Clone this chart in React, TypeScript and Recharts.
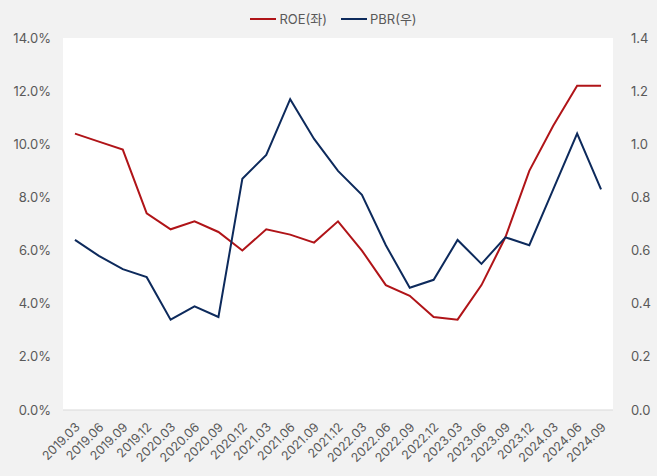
import React from 'react';
import { LineChart, Line, XAxis, YAxis } from 'recharts';

const categories = ['2019.03','2019.06','2019.09','2019.12','2020.03','2020.06','2020.09','2020.12','2021.03','2021.06','2021.09','2021.12','2022.03','2022.06','2022.09','2022.12','2023.03','2023.06','2023.09','2023.12','2024.03','2024.06','2024.09'];
const roe = [10.4,10.1,9.8,7.4,6.8,7.1,6.7,6.0,6.8,6.6,6.3,7.1,6.0,4.7,4.3,3.5,3.4,4.7,6.5,9.0,10.7,12.2,12.2];
const pbr = [0.64,0.58,0.53,0.50,0.34,0.39,0.35,0.87,0.96,1.17,1.02,0.90,0.81,0.62,0.46,0.49,0.64,0.55,0.65,0.62,0.83,1.04,0.83];
const leftTicks = [0,2,4,6,8,10,12,14];
const rightTicks = [0,0.2,0.4,0.6,0.8,1.0,1.2,1.4];

const data = categories.map((c, i) => ({ name: c, roe: roe[i], pbr: pbr[i] }));

const FONT = 'Inter, "Noto Sans CJK KR", sans-serif';
const TXT = '#595959';
const RED = '#b01418';
const NAVY = '#0d2a5c';

const XTick = (props: any) => {
  const { x, y, payload } = props;
  return (
    <text x={x} y={y} transform={`rotate(-45, ${x}, ${y})`} textAnchor="end" dy={11} dx={-3}
      fill={TXT} fontSize={12.5} fontFamily={FONT}>{payload.value}</text>
  );
};

export default function App() {
  return (
    <div style={{ position: 'absolute', left: 0, top: 0, width: 657, height: 476, background: '#f2f2f2' }}>
      <div style={{ position: 'absolute', top: 9, left: 0, width: 657, display: 'flex', justifyContent: 'center',
        fontFamily: FONT, fontSize: 13, color: TXT, paddingLeft: 10, boxSizing: 'border-box' }}>
        <div style={{ display: 'flex', alignItems: 'center', marginRight: 14 }}>
          <div style={{ width: 26, height: 2, background: RED, marginRight: 3 }} />ROE(좌)
        </div>
        <div style={{ display: 'flex', alignItems: 'center' }}>
          <div style={{ width: 26, height: 2, background: NAVY, marginRight: 3 }} />PBR(우)
        </div>
      </div>
      <LineChart width={657} height={476} data={data} margin={{ top: 38, right: 0, left: 0, bottom: 0 }}
        style={{ position: 'absolute', left: 0, top: 0 }}>
        <rect x={63} y={38} width={550} height={372} fill="#ffffff" />
        <XAxis dataKey="name" scale="band" interval={0} height={66} tick={<XTick />} tickLine={false}
          axisLine={{ stroke: '#d9d9d9' }} />
        <YAxis yAxisId="l" orientation="left" width={63} domain={[0, 14]} ticks={leftTicks}
          tickFormatter={(v: number) => v.toFixed(1) + '%'} axisLine={false} tickLine={false}
          tick={{ fill: TXT, fontSize: 13, fontFamily: FONT }} tickMargin={6} />
        <YAxis yAxisId="r" orientation="right" width={44} domain={[0, 1.4]} ticks={rightTicks}
          tickFormatter={(v: number) => v.toFixed(1)} axisLine={false} tickLine={false}
          tick={{ fill: TXT, fontSize: 13, fontFamily: FONT }} tickMargin={12} />
        <Line yAxisId="l" dataKey="roe" stroke={RED} strokeWidth={2} dot={false} isAnimationActive={false} />
        <Line yAxisId="r" dataKey="pbr" stroke={NAVY} strokeWidth={2} dot={false} isAnimationActive={false} />
      </LineChart>
    </div>
  );
}
